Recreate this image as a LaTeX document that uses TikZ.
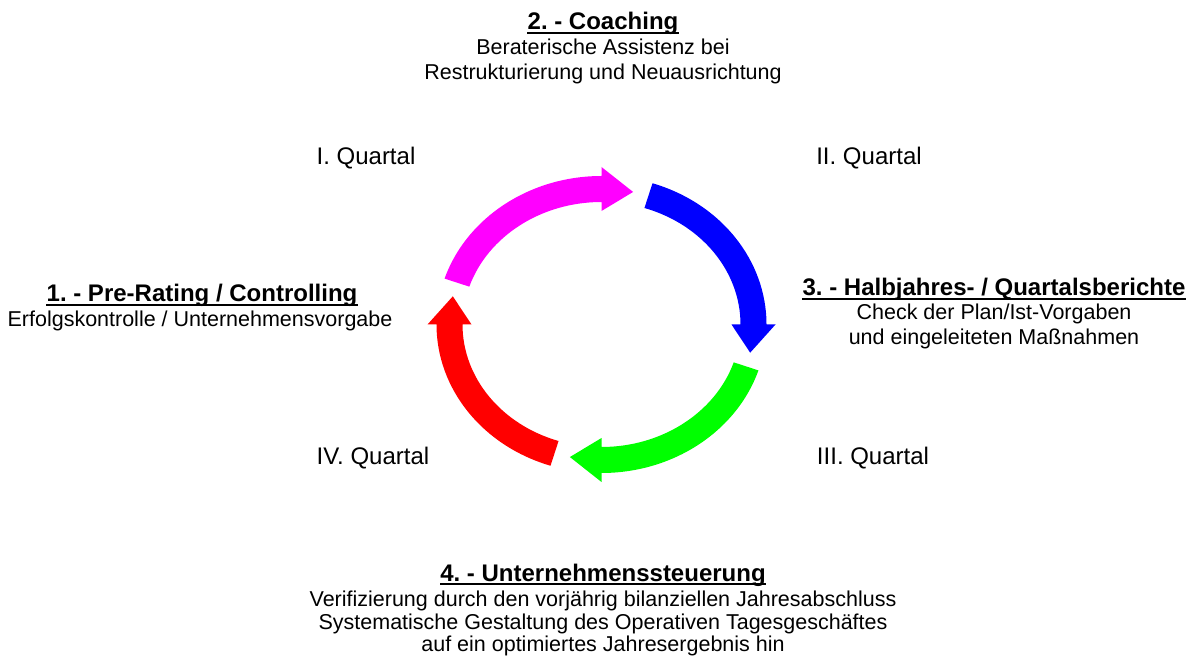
\documentclass[tikz,border=0pt]{standalone}
\usepackage{fontspec}
\setmainfont{Liberation Sans}
\frenchspacing
\definecolor{ringmagenta}{RGB}{255,0,255}
\definecolor{ringblue}{RGB}{0,0,255}
\definecolor{ringgreen}{RGB}{0,255,0}
\definecolor{ringred}{RGB}{255,0,0}
\begin{document}
\begin{tikzpicture}[x=1pt,y=1pt,
  bodytext/.style={anchor=base, inner sep=0pt, font=\fontsize{21.5}{24}\selectfont\frenchspacing},
  quartertext/.style={anchor=base, inner sep=0pt, font=\fontsize{24}{27}\selectfont\frenchspacing},
  titletext/.style={anchor=base, inner sep=0pt, font=\fontsize{24}{27}\selectfont\bfseries\frenchspacing},
  ulline/.style={line width=1.8pt}]
\useasboundingbox (0,0) rectangle (1188,659);
\def\RCX{601.5}\def\RCY{334.5}\def\RRX{152}\def\RRY{135.5}\def\RW{13}\def\RH{22}
\foreach \col/\ta/\tb/\tt in {ringmagenta/162/90/78, ringblue/72/0/-12, ringgreen/-18/-90/-102, ringred/-108/-180/-192}{
  \fill[\col] ({\RCX+(\RRX+\RW)*cos(\ta)},{\RCY+(\RRY+\RW)*sin(\ta)})
    arc[start angle=\ta, end angle=\tb, x radius={(\RRX+\RW)*1pt}, y radius={(\RRY+\RW)*1pt}]
    -- ({\RCX+(\RRX+\RH)*cos(\tb)},{\RCY+(\RRY+\RH)*sin(\tb)})
    -- ({\RCX+\RRX*cos(\tt)},{\RCY+\RRY*sin(\tt)})
    -- ({\RCX+(\RRX-\RH)*cos(\tb)},{\RCY+(\RRY-\RH)*sin(\tb)})
    -- ({\RCX+(\RRX-\RW)*cos(\tb)},{\RCY+(\RRY-\RW)*sin(\tb)})
    arc[start angle=\tb, end angle=\ta, x radius={(\RRX-\RW)*1pt}, y radius={(\RRY-\RW)*1pt}]
    -- cycle;
}
% block 2
\node[titletext] (t2) at (603,629) {2. - Coaching};
\node[bodytext] (b2a) at (603,604) {Beraterische Assistenz bei};
\node[bodytext] (b2b) at (603,579) {Restrukturierung und Neuausrichtung};
% quarters
\node[quartertext] (q1) at (366,494) {I. Quartal};
\node[quartertext] (q2) at (869,494) {II. Quartal};
\node[quartertext] (q3) at (873,194) {III. Quartal};
\node[quartertext] (q4) at (373,194) {IV. Quartal};
% block 1
\node[titletext] (t1) at (202,357) {1. - Pre-Rating / Controlling};
\node[bodytext] (b1) at (200,332) {Erfolgskontrolle / Unternehmensvorgabe};
% block 3
\node[titletext] (t3) at (994,363) {3. - Halbjahres- / Quartalsberichte};
\node[bodytext] (b3a) at (994,339) {Check der Plan/Ist-Vorgaben};
\node[bodytext] (b3b) at (994,314) {und eingeleiteten Maßnahmen};
% block 4
\node[titletext] (t4) at (603,78) {4. - Unternehmenssteuerung};
\node[bodytext] (b4a) at (603,53) {Verifizierung durch den vorjährig bilanziellen Jahresabschluss};
\node[bodytext] (b4b) at (603,30) {Systematische Gestaltung des Operativen Tagesgeschäftes};
\node[bodytext] (b4c) at (603,8) {auf ein optimiertes Jahresergebnis hin};
% underlines
\foreach \n in {t1,t2,t3,t4}{
  \draw[ulline] ([yshift=-3pt]\n.base west) -- ([yshift=-3pt]\n.base east);
}
\end{tikzpicture}
\end{document}
